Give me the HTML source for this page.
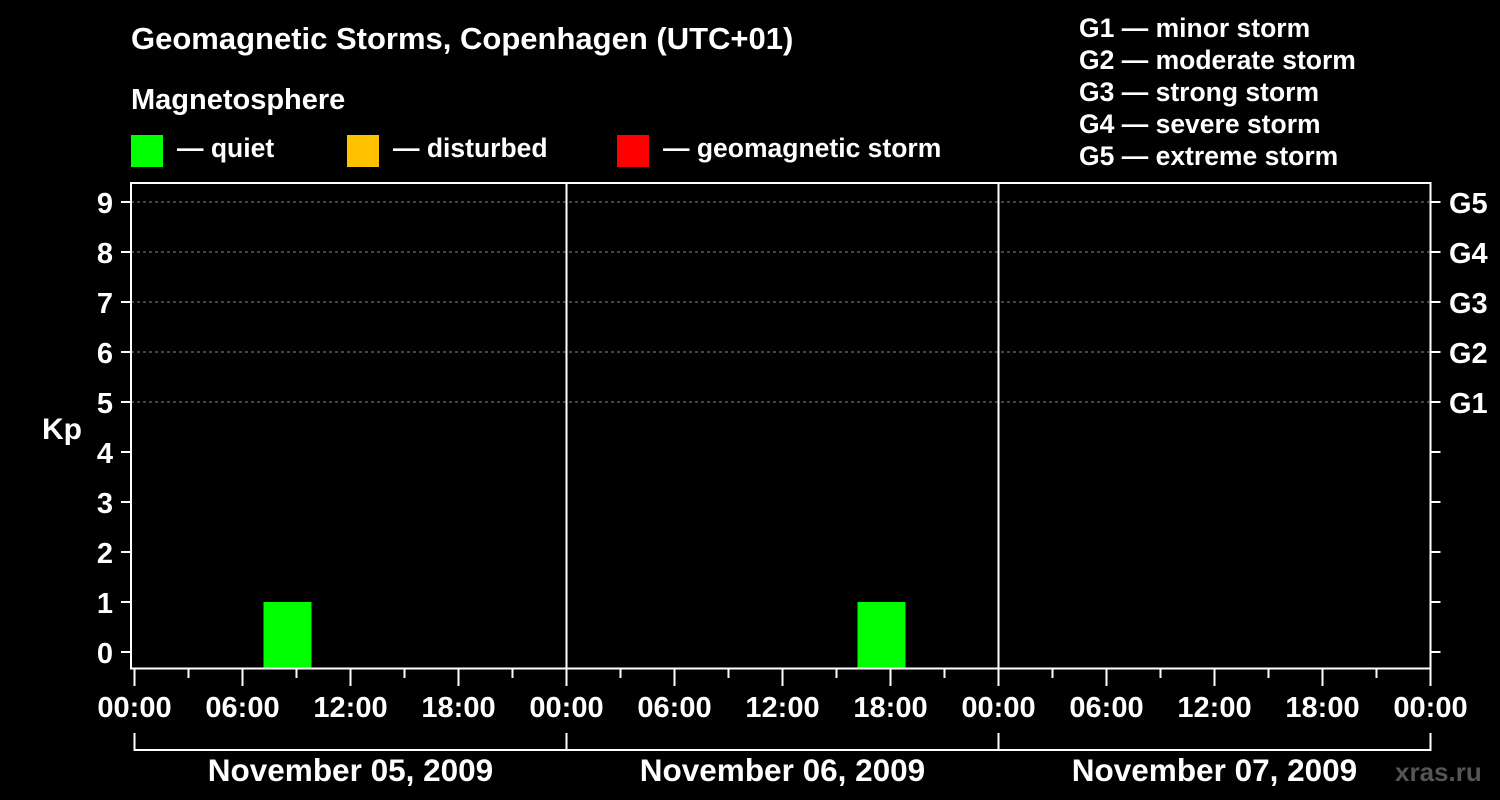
<!DOCTYPE html>
<html><head><meta charset="utf-8"><style>
html,body{margin:0;padding:0;background:#000;}
svg{display:block;font-family:"Liberation Sans",sans-serif;font-weight:bold;}
</style></head><body>
<svg id="c" width="1500" height="800" viewBox="0 0 1500 800">
<rect width="1500" height="800" fill="#000"/>
<text x="131" y="49" fill="#fff" font-size="31">Geomagnetic Storms, Copenhagen (UTC+01)</text>
<text x="131" y="109" fill="#fff" font-size="29">Magnetosphere</text>
<g><rect x="131" y="135" width="32" height="32" fill="#00ff00"/><text x="177" y="157" fill="#fff" font-size="26.5">— quiet</text></g>
<g><rect x="347" y="135" width="32" height="32" fill="#ffc000"/><text x="393" y="157" fill="#fff" font-size="26.5">— disturbed</text></g>
<g><rect x="617" y="135" width="32" height="32" fill="#ff0000"/><text x="663" y="157" fill="#fff" font-size="26.5">— geomagnetic storm</text></g>
<g fill="#fff" font-size="26.5">
<text x="1079" y="37">G1 — minor storm</text><text x="1079" y="69">G2 — moderate storm</text><text x="1079" y="101">G3 — strong storm</text><text x="1079" y="133">G4 — severe storm</text><text x="1079" y="165">G5 — extreme storm</text>
</g>
<text x="42" y="439" fill="#fff" font-size="30">Kp</text>
<text x="1395" y="781" fill="#555" font-size="26">xras.ru</text>
<g id="plot"></g>
</svg>
<script>
const days = ["November 05, 2009","November 06, 2009","November 07, 2009"];
const barStartHours = [7, 40];
const barKp = [1, 1];
const barColors = ["#00ff00","#00ff00"];
const yTicks = [0,1,2,3,4,5,6,7,8,9];
const gLabels = ["G1","G2","G3","G4","G5"];
const gLevels = [5,6,7,8,9];
const hourLabels = ["00:00","06:00","12:00","18:00"];

const NS="http://www.w3.org/2000/svg";
const g=document.getElementById('plot');
const X0=134.5, PX_H=18, Y0=652, PX_K=50, TOP=183, BOT=668.5, RIGHT=1430.5;
const x=h=>X0+h*PX_H, y=k=>Y0-k*PX_K;
function mk(t,a){const e=document.createElementNS(NS,t);for(const k in a)e.setAttribute(k,a[k]);g.appendChild(e);return e;}
gLevels.forEach((k,i)=>{
 const l=mk('line',{x1:131,x2:RIGHT,y1:y(k),y2:y(k),stroke:'#888','stroke-dasharray':'3,3','stroke-width':1});
 
 
 const t=mk('text',{x:1449,y:y(k)+11,fill:'#fff','font-size':29});
 t.textContent=gLabels[i];
 
 
});
barStartHours.forEach((h,i)=>{
 const r=mk('rect',{x:x(h)+3,y:y(barKp[i]),width:3*PX_H-6,height:BOT-y(barKp[i]),fill:barColors[i]});
 
 
});
const f=mk('rect',{x:131,y:TOP,width:RIGHT-131,height:BOT-TOP,fill:'none',stroke:'#fff','stroke-width':2});


yTicks.forEach(k=>{
 mk('line',{x1:121,x2:131,y1:y(k),y2:y(k),stroke:'#fff','stroke-width':2});
 mk('line',{x1:RIGHT,x2:RIGHT+10,y1:y(k),y2:y(k),stroke:'#fff','stroke-width':2});
 const t=mk('text',{x:105,y:y(k)+11,fill:'#fff','font-size':29,'text-anchor':'middle'});
 t.textContent=k;
 
 
});
days.forEach((d,i)=>{
 const dx=x(i*24);
 if(i>0){const s=mk('line',{x1:dx,x2:dx,y1:TOP,y2:BOT,stroke:'#fff','stroke-width':2});
  
  }
 for(let h=0;h<24;h+=3){
  const major=h%6==0;
  mk('line',{x1:x(i*24+h),x2:x(i*24+h),y1:BOT,y2:major?686:678,stroke:'#fff','stroke-width':2});
 }
 hourLabels.forEach((hl,j)=>{
  const t=mk('text',{x:x(i*24+j*6),y:717,fill:'#fff','font-size':29,'text-anchor':'middle'});
  t.textContent=hl;
  
  
 });
 const b=mk('path',{d:`M${dx},733 V750 H${x(i*24+24)} V733`,fill:'none',stroke:'#fff','stroke-width':2});
 
 
 const t=mk('text',{x:x(i*24+12),y:781,fill:'#fff','font-size':31.5,'text-anchor':'middle'});
 t.textContent=d;
 
 
});
mk('line',{x1:RIGHT,x2:RIGHT,y1:BOT,y2:686,stroke:'#fff','stroke-width':2});
const t=mk('text',{x:RIGHT,y:717,fill:'#fff','font-size':29,'text-anchor':'middle'});
t.textContent="00:00";


</script>
</body></html>
